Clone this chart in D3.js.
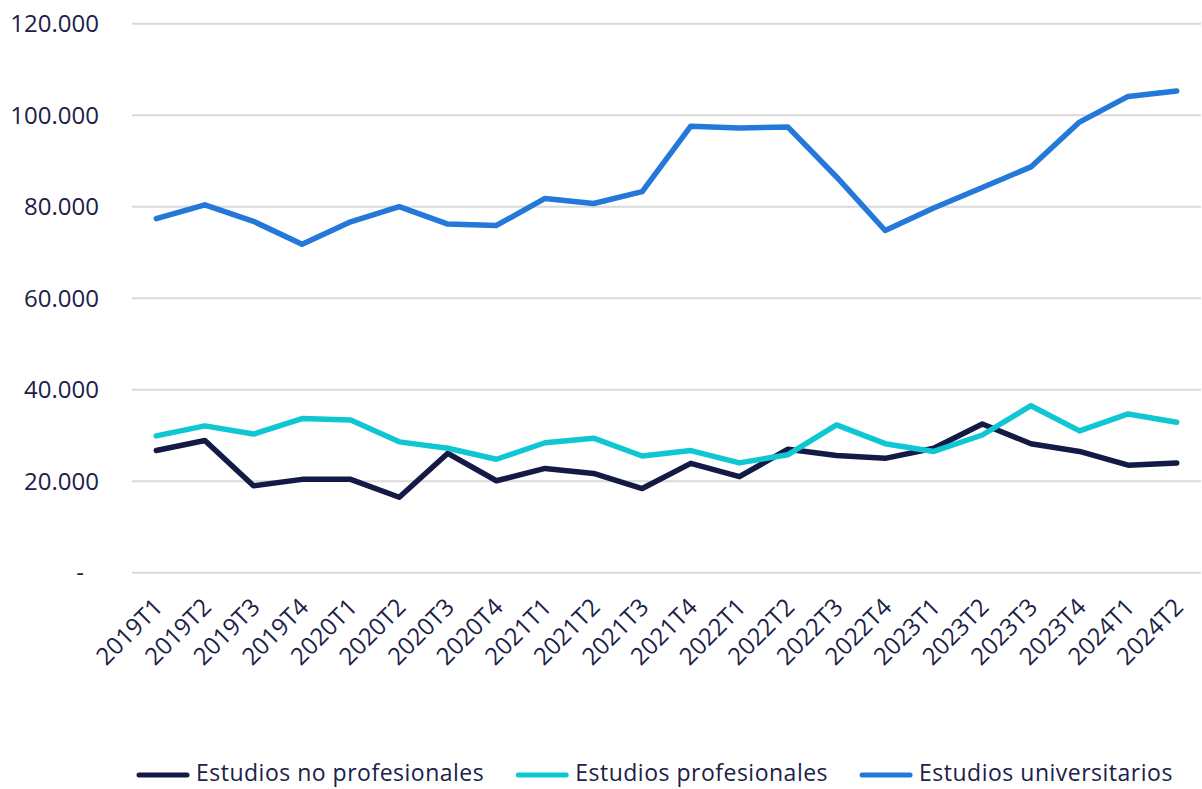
<!DOCTYPE html>
<html>
<head>
<meta charset="utf-8">
<script src="https://cdn.jsdelivr.net/npm/d3@7"></script>
<style>
  body { margin: 0; background: #fff; }
  text { font-family: "Open Sans", "Noto Sans", sans-serif; fill: #1b2148; }
</style>
</head>
<body>
<div id="chart"></div>
<script>
// quarters on the x axis
const quarters = ["2019T1", "2019T2", "2019T3", "2019T4", "2020T1", "2020T2", "2020T3", "2020T4",
    "2021T1", "2021T2", "2021T3", "2021T4", "2022T1", "2022T2", "2022T3", "2022T4",
    "2023T1", "2023T2", "2023T3", "2023T4", "2024T1", "2024T2"];

const noProfesionales = [26700, 28900, 19000, 20400, 20400, 16500, 26100, 20100, 22800, 21700, 18400,
    23900, 21000, 27000, 25600, 25000, 27200, 32500, 28200, 26500, 23500, 24000];
const profesionales = [29900, 32100, 30300, 33700, 33400, 28600, 27200, 24800, 28400, 29400, 25500,
    26700, 24000, 25800, 32300, 28200, 26500, 30100, 36500, 31000, 34700, 32900];
const universitarios = [77400, 80400, 76800, 71800, 76700, 80000, 76200, 75900, 81800, 80700, 83300,
    97600, 97200, 97400, 86500, 74800, 79700, 84200, 88700, 98500, 104100, 105300];

const yTicks = [0, 20000, 40000, 60000, 80000, 100000, 120000];
const seriesNames = ["Estudios no profesionales", "Estudios profesionales", "Estudios universitarios"];
const seriesColors = ["#131a45", "#0fc7d2", "#2478d9"];

const width = 1202, height = 789;
const margin = {left: 132, right: 1201, top: 23.7, bottom: 572.7};

const svg = d3.select("#chart").append("svg")
    .attr("width", width)
    .attr("height", height);

const x = d3.scalePoint().domain(quarters).range([margin.left, margin.right]).padding(0.5);
const y = d3.scaleLinear().domain([0, 120000]).range([margin.bottom, margin.top]);

const fmt = d3.formatLocale({decimal: ",", thousands: ".", grouping: [3], currency: ["", ""]}).format(",.0f");

// gridlines
svg.append("g").selectAll("line")
    .data(yTicks)
    .enter()
    .append("line")
    .attr("x1", margin.left).attr("x2", margin.right)
    .attr("y1", d => y(d)).attr("y2", d => y(d))
    .attr("stroke", "#d9d9d9")
    .attr("stroke-width", 2);

// y labels
svg.append("g").selectAll("text")
    .data(yTicks)
    .enter()
    .append("text")
    .attr("x", d => d === 0 ? 84 : 99)
    .attr("y", d => y(d))
    .attr("dy", "0.35em")
    .attr("text-anchor", "end")
    .style("font-size", "24px")
    .text(d => d === 0 ? "-" : fmt(d));

// x labels, rotated
svg.append("g").selectAll("text")
    .data(quarters)
    .enter()
    .append("text")
    .attr("transform", d => "translate(" + (x(d) + 2) + "," + (margin.bottom + 30) + ") rotate(-45)")
    .attr("text-anchor", "end")
    .attr("dy", "0.35em")
    .style("font-size", "24px")
    .text(d => d);

// lines
const line = d3.line()
    .x((d, i) => x(quarters[i]))
    .y(d => y(d));

const allSeries = [noProfesionales, profesionales, universitarios];
svg.append("g").selectAll("path")
    .data(allSeries)
    .enter()
    .append("path")
    .attr("d", line)
    .attr("fill", "none")
    .attr("stroke", (d, i) => seriesColors[i])
    .attr("stroke-width", 5.5)
    .attr("stroke-linejoin", "round")
    .attr("stroke-linecap", "round");

// legend
const legend = svg.append("g");
const legendY = 773;
let lx = 137;
seriesNames.forEach(function(name, i) {
    legend.append("line")
        .attr("x1", lx + 2).attr("x2", lx + 50)
        .attr("y1", legendY + 2).attr("y2", legendY + 2)
        .attr("stroke", seriesColors[i])
        .attr("stroke-width", 5)
        .attr("stroke-linecap", "round");
    const t = legend.append("text")
        .attr("x", lx + 59)
        .attr("y", legendY)
        .attr("dy", "0.35em")
        .style("font-size", "23px")
        .style("letter-spacing", "0.5px")
        .text(name);
    lx = lx + 59 + t.node().getComputedTextLength() + 32;
});
</script>
</body>
</html>
